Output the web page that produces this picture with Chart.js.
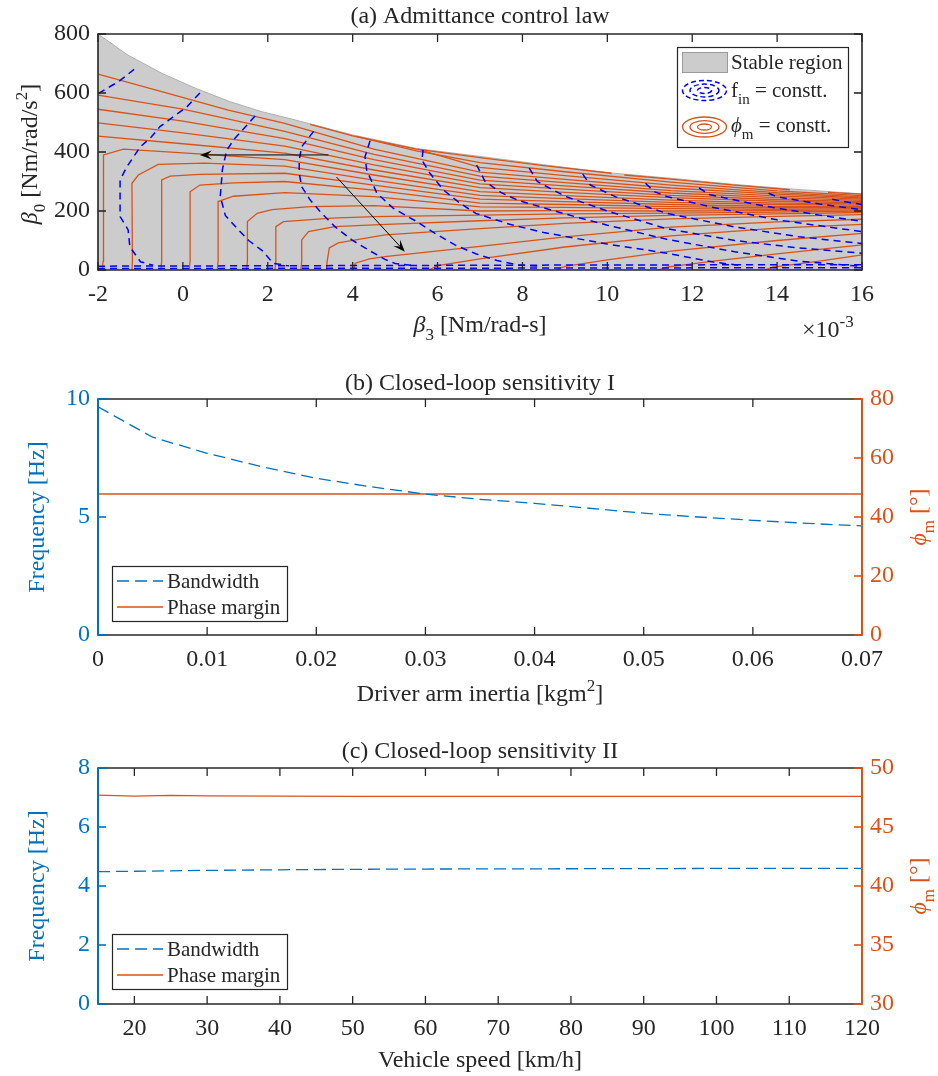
<!DOCTYPE html>
<html lang="en">
<head>
<meta charset="UTF-8">
<script src="https://cdn.jsdelivr.net/npm/chart.js"></script>
<style>
  body { margin: 0; background: #fff; }
  .panel { position: absolute; left: 0; width: 938px; }
  canvas { display: block; }
</style>
</head>
<body>
<div class="panel" style="top:0"><canvas id="chartA" width="938" height="345"></canvas></div>
<div class="panel" style="top:345px"><canvas id="chartB" width="938" height="370"></canvas></div>
<div class="panel" style="top:715px"><canvas id="chartC" width="938" height="361"></canvas></div>
<script>
// ---------- (a) admittance control law, beta3 in 1e-3 units ----------
const ticksXA = [-2, 0, 2, 4, 6, 8, 10, 12, 14, 16];
const ticksYA = [0, 200, 400, 600, 800];

// upper limit of the stable region
const stableB3 = [-2, -1.3, -0.5, 0.3, 1.1, 1.85, 2.5, 4, 5.5, 7, 8.5, 10, 11.5, 13, 14.3, 16];
const stableB0 = [800, 729, 667, 616, 571, 537, 514, 458, 412, 385, 357, 330, 311, 290, 275, 258];

// phase margin contours [beta3, beta0]
const phiContours = [
  [[3.0,494],[4.0,455],[5.5,410],[7,381],[8.5,354],[10.1,328],[10.15,null],[10.4,322],[11.5,308],[13,288],[14.3,272],[14.4,null],[15.2,263],[16,257]],
  [[4.1,452],[5.5,404],[7,364],[9,333],[11.5,298],[14,268],[16,252]],
  [[5.6,406],[7,348],[9,320],[11.5,288],[14,262],[16,248]],
  [[-2,664],[-0.5,605],[1.07,542],[2.4,497],[4.5,410],[7,332],[9,307],[11.5,278],[14,257],[16,244]],
  [[-2,593],[0,545],[2.4,470],[4.5,392],[7,318],[9,296],[11.5,269],[14,251],[16,240]],
  [[-2,545],[0,505],[2.4,445],[4.5,374],[7,305],[9,285],[11.5,261],[14,245],[16,236]],
  [[-2,499],[0,465],[2.4,420],[4.5,356],[7,292],[9,274],[11.5,253],[14,239],[16,232]],
  [[-2,454],[0,428],[2.4,396],[4.5,339],[7,279],[9,263],[11.5,245],[14,233],[16,228]],
  [[-1.9,0],[-1.88,30],[-1.87,390],[-1.4,410],[0,397],[2.4,374],[4.5,322],[7,266],[9,252],[11.5,237],[14,227],[16,224]],
  [[-1.2,0],[-1.19,30],[-1.2,294],[-1.05,322],[-0.58,358],[0.5,362],[2.4,352],[4.5,305],[7,253],[9,242],[11.5,229],[14,222],[16,220]],
  [[-0.52,0],[-0.5,30],[-0.5,305],[-0.3,318],[0.4,324],[2.4,328],[4.5,288],[7,240],[9,232],[11.5,222],[14,216],[16,216]],
  [[0.15,0],[0.17,30],[0.17,265],[0.4,288],[1.2,295],[2.4,300],[4.5,271],[7,227],[9,222],[11.5,215],[14,211],[16,212]],
  [[0.81,0],[0.83,30],[0.83,232],[1.19,250],[2.4,262],[4.5,249],[7,214],[9,212],[11.5,208],[14,206],[16,208]],
  [[1.5,0],[1.52,30],[1.52,164],[1.75,192],[2.1,205],[3,215],[4.5,218],[7,200],[9,201],[11.5,200],[14,201],[16,204]],
  [[2.17,0],[2.19,30],[2.19,147],[2.37,164],[3.5,176],[4.5,181],[7,186],[9,190],[11.5,193],[14,196],[16,200]],
  [[2.78,0],[2.8,30],[2.8,102],[2.96,130],[3.58,147],[4.5,153],[7,167],[9,177],[11.5,185],[14,190],[16,195]],
  [[3.38,0],[3.4,30],[3.45,75],[3.66,92],[4.76,119],[7,140],[9,158],[11.5,173],[14,182],[16,188]],
  [[4.02,0],[4.06,23],[4.4,38],[4.76,45],[7,80],[9,112],[11.5,145],[14,163],[16,172]],
  [[5.8,0],[6.0,15],[7,38],[9,78],[11.5,116],[14,142],[16,155]],
  [[8.8,0],[9.0,12],[10,34],[11.5,64],[14,100],[16,124]],
  [[11.2,0],[11.4,10],[12.5,30],[14,55],[16,85]],
  [[13.7,0],[13.9,10],[15,30],[16,51]]
];

// input frequency contours [beta3, beta0]
const finContours = [
  [[-1.15,680],[-1.5,640],[-2,598]],
  [[0.4,600],[0.1,554],[-0.54,486],[-0.75,450],[-1.0,418],[-1.32,350],[-1.48,305],[-1.48,181],[-1.29,136],[-1.25,79],[-1.0,28],[-0.7,16]],
  [[1.7,522],[1.2,442],[1.03,405],[0.93,340],[0.9,282],[0.88,250],[1.0,185],[1.32,134],[1.55,100],[1.9,62],[2.12,23],[2.5,14]],
  [[3.08,470],[2.8,418],[2.74,373],[2.74,328],[2.8,282],[3.0,237],[3.27,192],[3.58,147],[3.98,102],[4.37,68],[4.76,36],[5.0,22],[5.5,14]],
  [[4.41,438],[4.29,384],[4.33,339],[4.57,260],[4.96,209],[5.51,164],[5.94,124],[6.41,85],[6.9,55],[7.4,32],[7.9,17],[8.4,13]],
  [[5.66,407],[5.63,373],[5.82,328],[6.14,271],[6.53,226],[6.9,192],[7.7,155],[8.5,127],[10,88],[11.4,57],[12.5,27],[13.2,14]],
  [[6.92,356],[7.12,300],[7.5,262],[7.9,236],[9,190],[10,152],[11.4,104],[13,62],[14.5,30],[16,12]],
  [[8.16,345],[8.35,300],[9,250],[10,200],[11.4,140],[13,100],[14.5,75],[16,57]],
  [[9.42,325],[9.6,288],[10.2,248],[11.4,192],[13,146],[14.5,113],[16,90]],
  [[10.9,294],[11.1,266],[11.4,249],[12.5,212],[14,170],[16,130]],
  [[12.16,278],[12.4,256],[13.5,222],[15,186],[16,165]],
  [[13.8,260],[14,248],[15,224],[16,204]],
  [[15.3,240],[15.5,234],[16,222]],
  [[-2,13],[4,15],[10,17],[16,18]],
  [[-2,5],[6,6],[16,8]]
];

// annotation arrows [fromB3, fromB0, toB3, toB0]
const arrowsA = [[3.43, 390, 0.40, 390], [3.62, 315, 5.23, 62]];

// ---------- (b) closed-loop sensitivity I ----------
const inertia = [0, 0.005, 0.01, 0.015, 0.02, 0.025, 0.03, 0.035, 0.04, 0.045, 0.05, 0.055, 0.06, 0.065, 0.07];
const bwInertia = [9.67, 8.38, 7.70, 7.13, 6.64, 6.28, 5.97, 5.75, 5.58, 5.37, 5.16, 5.0, 4.86, 4.73, 4.62];
const pmInertia = [47.8, 47.8, 47.8, 47.8, 47.8, 47.8, 47.8, 47.8, 47.8, 47.8, 47.8, 47.8, 47.8, 47.8, 47.8];
const ticksXB = [0, 0.01, 0.02, 0.03, 0.04, 0.05, 0.06, 0.07];
const ticksYB = [0, 5, 10];
const ticksY2B = [0, 20, 40, 60, 80];

// ---------- (c) closed-loop sensitivity II ----------
const speed = [15, 20, 25, 30, 40, 50, 60, 70, 80, 90, 100, 110, 120];
const bwSpeed = [4.485, 4.50, 4.515, 4.53, 4.55, 4.565, 4.575, 4.58, 4.585, 4.59, 4.595, 4.60, 4.60];
const pmSpeed = [47.70, 47.62, 47.68, 47.63, 47.61, 47.60, 47.60, 47.60, 47.60, 47.60, 47.60, 47.60, 47.60];
const ticksXC = [20, 30, 40, 50, 60, 70, 80, 90, 100, 110, 120];
const ticksYC = [0, 2, 4, 6, 8];
const ticksY2C = [30, 35, 40, 45, 50];

const INK = '#262626', BLUE = '#0072BD', ORANGE = '#D95319', PURE_BLUE = '#0000FF';
const SERIF = '"Liberation Serif", "DejaVu Serif", serif';
const FS = 24;      // ticks, titles, axis labels
const FS_LEG = 21;  // legends

// text with italic / sub / sup pieces, y is the baseline
function rich(ctx, parts, x, y, o) {
  o = o || {};
  const size = o.size || FS;
  const f = m => (m === 'i' ? 'italic ' : '') + ((m === 'sub' || m === 'sup') ? Math.round(size * 0.72) : size) + 'px ' + SERIF;
  let w = 0;
  for (const [t, m] of parts) { ctx.font = f(m); w += ctx.measureText(t).width; }
  ctx.save();
  ctx.translate(x, y);
  if (o.rotate) ctx.rotate(o.rotate);
  ctx.fillStyle = o.color || INK;
  ctx.textBaseline = 'alphabetic';
  ctx.textAlign = 'left';
  let cx = o.align === 'left' ? 0 : -w / 2;
  for (const [t, m] of parts) {
    ctx.font = f(m);
    const dy = m === 'sub' ? size * 0.32 : m === 'sup' ? -size * 0.42 : 0;
    ctx.fillText(t, cx, dy);
    cx += ctx.measureText(t).width;
  }
  ctx.restore();
}

function seg(ctx, x1, y1, x2, y2, c, w) {
  ctx.beginPath();
  ctx.strokeStyle = c;
  ctx.lineWidth = w;
  ctx.moveTo(x1, y1);
  ctx.lineTo(x2, y2);
  ctx.stroke();
}

function arrow(ctx, x1, y1, x2, y2) {
  const ang = Math.atan2(y2 - y1, x2 - x1), L = 12, W = 4.5;
  ctx.save();
  seg(ctx, x1, y1, x2 - Math.cos(ang) * L * 0.6, y2 - Math.sin(ang) * L * 0.6, '#000', 1);
  ctx.translate(x2, y2);
  ctx.rotate(ang);
  ctx.fillStyle = '#000';
  ctx.beginPath();
  ctx.moveTo(0, 0);
  ctx.lineTo(-L, -W);
  ctx.lineTo(-L * 0.6, 0);
  ctx.lineTo(-L, W);
  ctx.closePath();
  ctx.fill();
  ctx.restore();
}

// box, inward ticks and texts drawn over the data
function decor(spec) {
  return {
    id: 'decor',
    afterDatasetsDraw(chart) {
      const ctx = chart.ctx, a = chart.chartArea;
      const xs = chart.scales.x, yl = chart.scales.y, yr = chart.scales[spec.right];
      const T = 8;
      ctx.save();
      spec.xTicks.forEach(v => {
        const p = xs.getPixelForValue(v);
        seg(ctx, p, a.bottom, p, a.bottom - T, INK, 1.3);
        seg(ctx, p, a.top, p, a.top + T, INK, 1.3);
      });
      seg(ctx, a.left, a.top, a.right, a.top, INK, 1.6);
      seg(ctx, a.left, a.bottom, a.right, a.bottom, INK, 1.6);
      spec.leftTicks.forEach(v => {
        const p = yl.getPixelForValue(v);
        seg(ctx, a.left, p, a.left + T, p, spec.leftColor, 1.6);
      });
      spec.rightTicks.forEach(v => {
        const p = yr.getPixelForValue(v);
        seg(ctx, a.right, p, a.right - T, p, spec.rightColor, 1.6);
      });
      seg(ctx, a.left, a.top - 0.8, a.left, a.bottom + 0.8, spec.leftColor, spec.sideWidth);
      seg(ctx, a.right, a.top - 0.8, a.right, a.bottom + 0.8, spec.rightColor, spec.sideWidth);
      ctx.restore();
      spec.extra(chart, ctx);
    }
  };
}

function axisX(min, max, ticks) {
  return {
    type: 'linear', position: 'bottom', min, max,
    grid: { display: false, drawTicks: false }, border: { display: false },
    afterBuildTicks: s => { s.ticks = ticks.map(v => ({ value: v })); },
    afterFit: s => { s.height = 45; },
    ticks: { color: INK, padding: 10, maxRotation: 0, autoSkip: false, font: { family: SERIF, size: FS }, callback: v => String(v) }
  };
}

function axisY(min, max, ticks, position, color, width) {
  return {
    type: 'linear', position, min, max,
    grid: { display: false, drawTicks: false }, border: { display: false },
    afterBuildTicks: s => { s.ticks = ticks.map(v => ({ value: v })); },
    afterFit: s => { s.width = width; },
    ticks: { color, padding: 8, autoSkip: false, font: { family: SERIF, size: FS }, callback: v => String(v) }
  };
}

const baseOptions = {
  responsive: false, animation: false, events: [],
  plugins: { legend: { display: false }, tooltip: { enabled: false } },
  elements: { point: { radius: 0 }, line: { tension: 0 } }
};

// ---------- chart (a) ----------
const datasetsA = [
  ...finContours.map(c => ({ data: c, borderColor: PURE_BLUE, borderWidth: 1.5, borderDash: [7, 5], fill: false, order: 1 })),
  ...phiContours.map(c => ({ data: c, borderColor: ORANGE, borderWidth: 1.3, fill: false, order: 2 })),
  { data: stableB3.map((x, i) => ({ x, y: stableB0[i] })), fill: 'origin', backgroundColor: '#CCCCCC',
    borderColor: '#B0B0B0', borderWidth: 1, order: 3 }
];

function legendA(ctx) {
  ctx.save();
  ctx.fillStyle = '#fff';
  ctx.fillRect(677, 47, 171, 100);
  ctx.strokeStyle = INK; ctx.lineWidth = 1.2;
  ctx.strokeRect(677.5, 47.5, 171, 100);
  ctx.fillStyle = '#CCCCCC';
  ctx.fillRect(682, 52, 45, 20);
  ctx.strokeStyle = '#9a9a9a'; ctx.lineWidth = 1;
  ctx.strokeRect(682.5, 52.5, 45, 20);
  const rings = [[22, 10], [14.5, 6.4], [7, 3]];
  ctx.strokeStyle = PURE_BLUE; ctx.lineWidth = 1.5; ctx.setLineDash([5, 3]);
  rings.forEach(([rx, ry]) => { ctx.beginPath(); ctx.ellipse(704.5, 90.5, rx, ry, 0, 0, 2 * Math.PI); ctx.stroke(); });
  ctx.setLineDash([]); ctx.strokeStyle = ORANGE; ctx.lineWidth = 1.3;
  rings.forEach(([rx, ry]) => { ctx.beginPath(); ctx.ellipse(704.5, 127, rx, ry, 0, 0, 2 * Math.PI); ctx.stroke(); });
  ctx.restore();
  rich(ctx, [['Stable region']], 731, 69, { align: 'left', size: FS_LEG });
  rich(ctx, [['f'], ['in', 'sub'], [' = constt.']], 731, 97, { align: 'left', size: FS_LEG });
  rich(ctx, [['ϕ', 'i'], ['m', 'sub'], [' = constt.']], 731, 132, { align: 'left', size: FS_LEG });
}

new Chart(document.getElementById('chartA'), {
  type: 'line',
  data: { datasets: datasetsA },
  options: Object.assign({}, baseOptions, {
    layout: { padding: { top: 34, right: 76, bottom: 30, left: 0 } },
    scales: { x: axisX(-2, 16, ticksXA), y: axisY(0, 800, ticksYA, 'left', INK, 98) }
  }),
  plugins: [decor({
    right: 'y', xTicks: ticksXA, leftTicks: ticksYA, rightTicks: ticksYA,
    leftColor: INK, rightColor: INK, sideWidth: 1.6,
    extra(chart, ctx) {
      const xs = chart.scales.x, ys = chart.scales.y;
      arrowsA.forEach(([x1, y1, x2, y2]) => arrow(ctx, xs.getPixelForValue(x1), ys.getPixelForValue(y1), xs.getPixelForValue(x2), ys.getPixelForValue(y2)));
      legendA(ctx);
      rich(ctx, [['(a) Admittance control law']], 480, 23);
      rich(ctx, [['β', 'i'], ['3', 'sub'], [' [Nm/rad-s]']], 480, 332);
      rich(ctx, [['×10'], ['-3', 'sup']], 802, 337, { align: 'left' });
      rich(ctx, [['β', 'i'], ['0', 'sub'], [' [Nm/rad/s'], ['2', 'sup'], [']']], 37, 154, { rotate: -Math.PI / 2 });
    }
  })]
});

// ---------- charts (b) and (c) ----------
function lineLegend(chart, ctx, top) {
  const ds = chart.data.datasets;
  ctx.save();
  ctx.fillStyle = '#fff';
  ctx.fillRect(112, top, 175, 55);
  ctx.strokeStyle = INK; ctx.lineWidth = 1.2;
  ctx.strokeRect(112.5, top + 0.5, 175, 55);
  ctx.setLineDash([12, 6]);
  seg(ctx, 117, top + 15, 163, top + 15, BLUE, 1.3);
  ctx.setLineDash([]);
  seg(ctx, 117, top + 41, 163, top + 41, ORANGE, 1.3);
  ctx.restore();
  rich(ctx, [[ds[0].label]], 167, top + 22, { align: 'left', size: FS_LEG });
  rich(ctx, [[ds[1].label]], 167, top + 48, { align: 'left', size: FS_LEG });
}

function sensitivityChart(id, o) {
  new Chart(document.getElementById(id), {
    type: 'line',
    data: {
      datasets: [
        { label: 'Bandwidth', data: o.x.map((x, i) => ({ x, y: o.bw[i] })), yAxisID: 'y',
          borderColor: BLUE, borderWidth: 1.3, borderDash: [12, 6], fill: false },
        { label: 'Phase margin', data: o.x.map((x, i) => ({ x, y: o.pm[i] })), yAxisID: 'y2',
          borderColor: ORANGE, borderWidth: 1.3, fill: false }
      ]
    },
    options: Object.assign({}, baseOptions, {
      layout: { padding: { top: o.top, right: 0, bottom: o.bottom, left: 0 } },
      scales: {
        x: axisX(o.xmin, o.xmax, o.xTicks),
        y: axisY(o.ymin, o.ymax, o.yTicks, 'left', BLUE, 98),
        y2: axisY(o.y2min, o.y2max, o.y2Ticks, 'right', ORANGE, 76)
      }
    }),
    plugins: [decor({
      right: 'y2', xTicks: o.xTicks, leftTicks: o.yTicks, rightTicks: o.y2Ticks,
      leftColor: BLUE, rightColor: ORANGE, sideWidth: 2,
      extra(chart, ctx) {
        lineLegend(chart, ctx, o.legendTop);
        rich(ctx, [[o.title]], 480, o.titleY);
        rich(ctx, o.xlabel, 480, o.xlabelY);
        const mid = (chart.chartArea.top + chart.chartArea.bottom) / 2;
        rich(ctx, [['Frequency [Hz]']], 44, mid, { rotate: -Math.PI / 2, color: BLUE });
        rich(ctx, [['ϕ', 'i'], ['m', 'sub'], [' [°]']], 926, mid, { rotate: -Math.PI / 2, color: ORANGE });
      }
    })]
  });
}

sensitivityChart('chartB', {
  x: inertia, bw: bwInertia, pm: pmInertia,
  xmin: 0, xmax: 0.07, xTicks: ticksXB,
  ymin: 0, ymax: 10, yTicks: ticksYB,
  y2min: 0, y2max: 80, y2Ticks: ticksY2B,
  top: 54, bottom: 35, legendTop: 221,
  title: '(b) Closed-loop sensitivity I', titleY: 45,
  xlabel: [['Driver arm inertia [kgm'], ['2', 'sup'], [']']], xlabelY: 356
});

sensitivityChart('chartC', {
  x: speed, bw: bwSpeed, pm: pmSpeed,
  xmin: 15, xmax: 120, xTicks: ticksXC,
  ymin: 0, ymax: 8, yTicks: ticksYC,
  y2min: 30, y2max: 50, y2Ticks: ticksY2C,
  top: 53, bottom: 27, legendTop: 219,
  title: '(c) Closed-loop sensitivity II', titleY: 43,
  xlabel: [['Vehicle speed [km/h]']], xlabelY: 352
});
</script>
</body>
</html>
